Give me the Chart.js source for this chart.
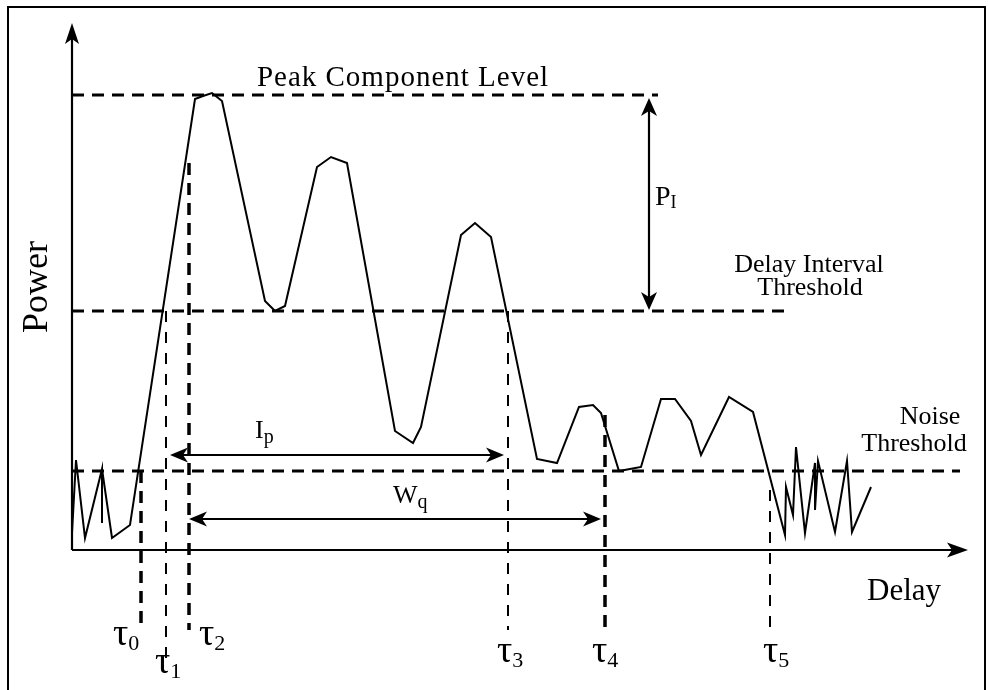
<!DOCTYPE html>
<html><head><meta charset="utf-8">
<script src="https://cdn.jsdelivr.net/npm/chart.js@4"></script>
<style>html,body{margin:0;padding:0;background:#fff}#wrap{width:989px;height:690px;position:relative}</style>
</head><body><div id="wrap"><canvas id="c"></canvas></div>
<script>
// ---- data (delay / power, arbitrary units; origin at axis corner) ----
const delay = [0,4,13,30,30,30,40,58,123,131,140,150,193,203,213,245,259,275,323,341,349,389,403,419,465,485,507,521,529,547,569,589,603,619,629,657,681,713,714,721,724,733,743,743,746,763,775,780,799];
const power = [17,90,12,81,27,81,12,25,451,454,457,449,249,239,244,383,393,387,119,107,123,315,327,313,91,87,143,145,137,79,83,151,151,129,95,153,138,15,63,35,103,17,87,40,89,18,89,18,63];
const peakLevel = 455;
const delayIntervalThreshold = 239;
const noiseThreshold = 79;
const tauNames = ['0','1','2','3','4','5'];
const tauDelay = [69,94,117,436,533,698];
const tauTopPower = [79,239,387,239,135,60];
const Ip = [98,432];     // delay span of I_p
const Wq = [117,529];    // delay span of W_q

// ---- layout / style config ----
const X_MIN=-72, X_MAX=917, Y_MIN=-140, Y_MAX=550;
const FONT = '"Liberation Serif","Times New Roman",serif';
const lineEnds = {peak:586, delayInt:714, noise:888};
const tauBottom = [-80,-108,-80,-80,-80,-80];
const tauThick = [true,false,true,false,true,false];
const tauLabelLeft = [41,83,127,425,520,691];
const tauLabelBase = [-95,-123,-95,-112,-112,-112];

const black='#000';
function hLine(yv, x1, label){
  return {label, data:[{x:0,y:yv},{x:x1,y:yv}], showLine:true, borderColor:black, borderWidth:3.2, borderDash:[12,8], pointRadius:0, fill:false};
}
const datasets = [
  {label:'profile', data:delay.map((d,i)=>({x:d,y:power[i]})), showLine:true, borderColor:black, borderWidth:2, pointRadius:0, tension:0, fill:false, borderJoinStyle:'miter'},
  hLine(peakLevel, lineEnds.peak, 'peak'),
  hLine(delayIntervalThreshold, lineEnds.delayInt, 'delayInt'),
  hLine(noiseThreshold, lineEnds.noise, 'noise'),
];
tauDelay.forEach((d,i)=>{
  datasets.push({label:'tau'+i, data:[{x:d,y:tauTopPower[i]},{x:d,y:tauBottom[i]}], showLine:true, borderColor:black,
    borderWidth: tauThick[i]?3.5:2, borderDash: tauThick[i]?[12,8]:[11,10], pointRadius:0, fill:false});
});

function arrowHead(ctx, tx, ty, dx, dy, len, hw, notch){
  const px=-dy, py=dx;
  const bx=tx-dx*len, by=ty-dy*len;
  ctx.beginPath();
  ctx.moveTo(tx,ty);
  ctx.lineTo(bx+px*hw, by+py*hw);
  ctx.lineTo(tx-dx*(len-notch), ty-dy*(len-notch));
  ctx.lineTo(bx-px*hw, by-py*hw);
  ctx.closePath();
  ctx.fill();
}
function subText(ctx, main, sub, x, y, size, subSize, subDrop){
  ctx.font = size+'px '+FONT;
  ctx.textAlign='left'; ctx.textBaseline='alphabetic';
  ctx.fillText(main, x, y);
  const w = ctx.measureText(main).width;
  ctx.font = subSize+'px '+FONT;
  ctx.fillText(sub, x+w, y+subDrop);
}

const overlay = {
  id:'overlay',
  afterDatasetsDraw(chart){
    const ctx=chart.ctx, xs=chart.scales.x, ys=chart.scales.y;
    const X=v=>xs.getPixelForValue(v), Y=v=>ys.getPixelForValue(v);
    ctx.save();
    ctx.fillStyle=black; ctx.strokeStyle=black;
    // frame
    ctx.lineWidth=2;
    ctx.beginPath(); ctx.moveTo(8,690); ctx.lineTo(8,7); ctx.lineTo(985,7); ctx.lineTo(985,690); ctx.stroke();
    // axes
    ctx.lineWidth=2.2;
    ctx.beginPath(); ctx.moveTo(X(0),Y(0)); ctx.lineTo(X(0),Y(512)); ctx.stroke();
    arrowHead(ctx, X(0), Y(527), 0, -1, 21, 7, 5);
    ctx.beginPath(); ctx.moveTo(X(0),Y(0)); ctx.lineTo(X(880),Y(0)); ctx.stroke();
    arrowHead(ctx, X(896), Y(0), 1, 0, 21, 7.5, 5);
    // P_I arrow
    const pIx = 577;
    ctx.lineWidth=2.2;
    ctx.beginPath(); ctx.moveTo(X(pIx),Y(peakLevel-10)); ctx.lineTo(X(pIx),Y(delayIntervalThreshold+10)); ctx.stroke();
    arrowHead(ctx, X(pIx), Y(peakLevel-3), 0, -1, 18, 8, 5);
    arrowHead(ctx, X(pIx), Y(delayIntervalThreshold+1), 0, 1, 18, 8, 5);
    // I_p arrow
    const ipY = 95;
    ctx.beginPath(); ctx.moveTo(X(Ip[0]+10),Y(ipY)); ctx.lineTo(X(Ip[1]-10),Y(ipY)); ctx.stroke();
    arrowHead(ctx, X(Ip[0]), Y(ipY), -1, 0, 18, 7.5, 5);
    arrowHead(ctx, X(Ip[1]), Y(ipY), 1, 0, 18, 7.5, 5);
    // W_q arrow
    const wqY = 31;
    ctx.beginPath(); ctx.moveTo(X(Wq[0]+10),Y(wqY)); ctx.lineTo(X(Wq[1]-10),Y(wqY)); ctx.stroke();
    arrowHead(ctx, X(Wq[0]), Y(wqY), -1, 0, 18, 7.5, 5);
    arrowHead(ctx, X(Wq[1]), Y(wqY), 1, 0, 18, 7.5, 5);

    // texts
    ctx.textBaseline='alphabetic';
    ctx.save();
    ctx.font='29px '+FONT; ctx.textAlign='center';
    try { ctx.letterSpacing='1px'; } catch(e){}
    ctx.fillText('Peak Component Level', X(331), Y(464));
    ctx.restore();
    ctx.font='26px '+FONT; ctx.textAlign='center';
    ctx.fillText('Delay Interval', X(737), Y(278));
    ctx.fillText('Threshold', X(738), Y(255));
    ctx.fillText('Noise', X(858), Y(126));
    ctx.fillText('Threshold', X(842), Y(99));
    ctx.font='31px '+FONT; ctx.textAlign='left';
    ctx.fillText('Delay', X(795), Y(-50));
    ctx.save();
    ctx.translate(X(-34), Y(263)); ctx.rotate(-Math.PI/2);
    ctx.font='36px '+FONT; ctx.textAlign='center'; ctx.textBaseline='middle';
    ctx.fillText('Power', 0, 0);
    ctx.restore();
    subText(ctx,'P','I', X(583), Y(345), 28, 18, 3);
    subText(ctx,'I','p', X(183), Y(112), 26, 20, 5);
    subText(ctx,'W','q', X(321), Y(47), 26, 20, 5);
    tauNames.forEach((n,i)=>subText(ctx,'\u03c4',n, X(tauLabelLeft[i]), Y(tauLabelBase[i]), 38, 22, 5));
    ctx.restore();
  }
};

new Chart(document.getElementById('c'), {
  type:'scatter',
  data:{datasets},
  options:{
    responsive:true, maintainAspectRatio:false, animation:false, devicePixelRatio:1,
    layout:{padding:0}, events:[],
    plugins:{legend:{display:false}, tooltip:{enabled:false}},
    scales:{
      x:{type:'linear', min:X_MIN, max:X_MAX, display:false},
      y:{type:'linear', min:Y_MIN, max:Y_MAX, display:false}
    }
  },
  plugins:[overlay]
});
</script></body></html>
